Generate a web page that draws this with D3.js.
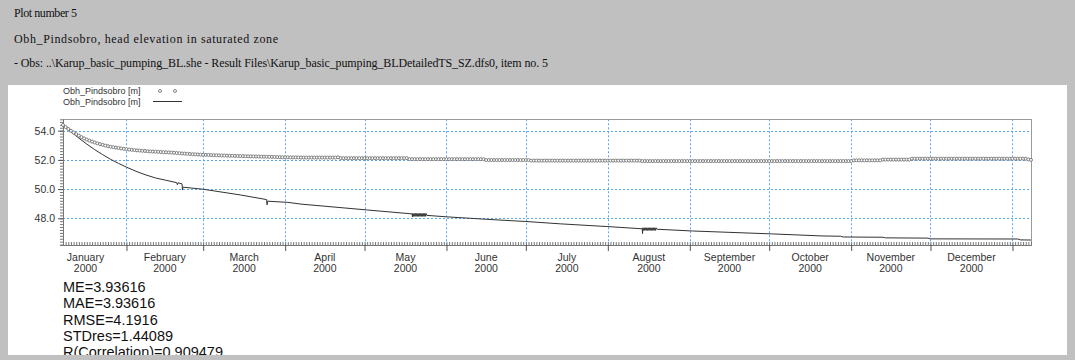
<!DOCTYPE html>
<html><head><meta charset="utf-8">
<script src="https://cdn.jsdelivr.net/npm/d3@7"></script>
<style>body{margin:0;background:#c0c0c0;overflow:hidden}</style>
</head><body>
<svg id="c" width="1075" height="360"></svg>
<script>
// ---------- data ----------
const headerLines = [
  "Plot number 5",
  "Obh_Pindsobro, head elevation in saturated zone",
  "- Obs: ..\\Karup_basic_pumping_BL.she - Result Files\\Karup_basic_pumping_BLDetailedTS_SZ.dfs0, item no. 5"
];
const legendLabels = ["Obh_Pindsobro [m]", "Obh_Pindsobro [m]"];
const xDomain = ["2000-01-08", "2001-01-08"];
const yDomain = [46.17, 54.78];
const yMajorTicks = [48.0, 50.0, 52.0, 54.0];
const monthLabels = ["January","February","March","April","May","June","July","August","September","October","November","December"];
const yearLabel = "2000";
const statsLines = ["ME=3.93616","MAE=3.93616","RMSE=4.1916","STDres=1.44089","R(Correlation)=0.909479"];

// observed: daily values starting at obsStart
const obsStart = "2000-01-08";
const obsValues = [
54.39,54.25,54.12,53.99,53.87,53.76,53.66,53.56,53.47,53.39,
53.32,53.25,53.19,53.13,53.08,53.03,52.98,52.94,52.90,52.87,
52.84,52.81,52.78,52.76,52.73,52.71,52.69,52.67,52.65,52.64,
52.62,52.61,52.59,52.58,52.57,52.56,52.55,52.54,52.53,52.52,
52.51,52.50,52.49,52.47,52.46,52.44,52.43,52.42,52.40,52.39,
52.38,52.37,52.36,52.35,52.34,52.34,52.33,52.32,52.32,52.31,
52.30,52.30,52.29,52.28,52.28,52.27,52.27,52.26,52.26,52.25,
52.25,52.24,52.24,52.23,52.23,52.22,52.22,52.21,52.21,52.20,
52.20,52.19,52.19,52.18,52.18,52.18,52.17,52.17,52.17,52.17,
52.16,52.16,52.16,52.16,52.16,52.16,52.16,52.16,52.16,52.16,
52.16,52.16,52.16,52.16,52.18,52.12,52.12,52.12,52.12,52.12,
52.12,52.12,52.12,52.12,52.12,52.12,52.12,52.12,52.12,52.12,
52.12,52.12,52.12,52.12,52.12,52.12,52.12,52.12,52.12,52.12,
52.12,52.05,52.05,52.05,52.05,52.05,52.05,52.05,52.05,52.05,
52.05,52.05,52.05,52.05,52.05,52.05,52.05,52.05,52.05,52.05,
52.05,52.05,52.05,52.05,52.05,52.05,52.05,52.05,52.05,52.05,
51.99,51.99,51.99,51.99,51.99,51.99,51.99,51.99,51.99,51.99,
51.99,51.99,51.99,51.99,51.99,51.99,51.99,51.95,51.95,51.95,
51.95,51.95,51.95,51.95,51.95,51.95,51.95,51.95,51.95,51.95,
51.95,51.95,51.95,51.95,51.95,51.95,51.95,51.95,51.95,51.95,
51.95,51.95,51.95,51.95,51.95,51.95,51.95,51.95,51.95,51.95,
51.95,51.95,51.95,51.95,51.95,51.95,51.95,51.95,51.95,51.92,
51.92,51.92,51.92,51.92,51.92,51.92,51.92,51.92,51.92,51.92,
51.92,51.92,51.92,51.92,51.92,51.92,51.92,51.92,51.92,51.92,
51.92,51.92,51.92,51.92,51.92,51.92,51.92,51.92,51.92,51.92,
51.92,51.92,51.92,51.92,51.92,51.92,51.92,51.92,51.92,51.92,
51.92,51.92,51.92,51.92,51.92,51.92,51.92,51.92,51.92,51.92,
51.92,51.92,51.92,51.92,51.92,51.92,51.92,51.92,51.92,51.92,
51.92,51.92,51.92,51.92,51.92,51.92,51.92,51.92,51.92,51.92,
51.92,51.92,51.92,51.92,51.92,51.92,51.92,51.92,51.92,51.97,
51.97,51.97,51.97,51.97,51.97,51.97,51.97,51.97,51.97,51.97,
52.02,52.02,52.02,52.02,52.02,52.02,52.02,52.02,52.02,52.02,
52.02,52.08,52.08,52.08,52.08,52.08,52.08,52.08,52.08,52.08,
52.08,52.08,52.08,52.08,52.08,52.08,52.08,52.08,52.08,52.08,
52.08,52.08,52.08,52.08,52.08,52.08,52.08,52.08,52.08,52.08,
52.08,52.08,52.08,52.08,52.08,52.08,52.08,52.08,52.08,52.08,
52.08,52.08,52.08,52.08,52.08,52.03,52.00
];

// simulated: [time, value]
const simPoints = [
["2000-01-08T00",54.39],["2000-01-11T00",53.93],["2000-01-14T00",53.49],["2000-01-17T00",53.08],
["2000-01-20T00",52.70],["2000-01-23T00",52.36],["2000-01-26T00",52.04],["2000-01-29T00",51.76],
["2000-02-01T00",51.50],["2000-02-05T00",51.19],["2000-02-08T00",50.99],["2000-02-12T00",50.76],
["2000-02-16T00",50.60],["2000-02-20T00",50.44],
["2000-02-20T06",50.30],["2000-02-20T12",50.43],["2000-02-22T00",50.36],["2000-02-22T04",49.94],
["2000-02-22T08",50.13],["2000-03-01T00",49.99],["2000-03-15T00",49.60],["2000-03-25T00",49.28],
["2000-03-25T04",48.92],["2000-03-25T08",49.17],["2000-04-02T00",49.09],["2000-04-07T00",48.97],
["2000-05-02T00",48.57],["2000-05-19T00",48.30],["2000-05-19T03",48.10],["2000-05-19T06",48.33],
["2000-05-19T12",48.13],["2000-05-19T18",48.33],["2000-05-20T00",48.13],["2000-05-20T06",48.33],
["2000-05-20T12",48.13],["2000-05-20T18",48.33],["2000-05-21T00",48.13],["2000-05-21T06",48.33],
["2000-05-21T12",48.13],["2000-05-21T18",48.33],["2000-05-22T00",48.13],["2000-05-22T06",48.33],
["2000-05-22T12",48.13],["2000-05-22T18",48.33],["2000-05-23T00",48.13],["2000-05-23T06",48.33],
["2000-05-23T12",48.13],["2000-05-23T18",48.33],["2000-05-24T00",48.13],["2000-05-24T06",48.33],
["2000-05-24T12",48.20],["2000-06-01T00",48.10],["2000-06-19T00",47.90],["2000-07-01T00",47.78],
["2000-07-14T00",47.62],["2000-08-01T00",47.43],["2000-08-14T00",47.28],["2000-08-14T03",46.95],
["2000-08-14T06",47.35],["2000-08-14T12",47.17],["2000-08-14T18",47.35],["2000-08-15T00",47.17],
["2000-08-15T06",47.35],["2000-08-15T12",47.17],["2000-08-15T18",47.35],["2000-08-16T00",47.17],
["2000-08-16T06",47.35],["2000-08-16T12",47.17],["2000-08-16T18",47.35],["2000-08-17T00",47.17],
["2000-08-17T06",47.35],["2000-08-17T12",47.17],["2000-08-17T18",47.35],["2000-08-18T00",47.17],
["2000-08-18T06",47.35],["2000-08-18T12",47.17],["2000-08-18T18",47.35],["2000-08-19T00",47.17],
["2000-08-19T06",47.35],["2000-08-19T12",47.25],["2000-09-02T00",47.13],["2000-10-02T00",46.93],
["2000-10-21T00",46.79],["2000-10-28T00",46.77],["2000-10-29T00",46.72],["2000-11-13T00",46.70],
["2000-11-14T00",46.66],["2000-11-30T00",46.64],["2000-12-01T00",46.59],["2001-01-03T00",46.58],
["2001-01-04T00",46.52],["2001-01-08T00",46.51]
];

// ---------- drawing ----------
const svg = d3.select("#c");
const parseDay = d3.timeParse("%Y-%m-%d");
const parseHour = d3.timeParse("%Y-%m-%dT%H");

svg.append("rect").attr("width",1075).attr("height",360).attr("fill","#c0c0c0");

// header
const hdrY = [17,43,67], hdrW = [63,264,534];
svg.selectAll("text.hdr").data(headerLines).join("text")
  .attr("class","hdr")
  .attr("x",14).attr("y",(d,i)=>hdrY[i])
  .attr("textLength",(d,i)=>hdrW[i]).attr("lengthAdjust","spacing")
  .attr("font-family","'Liberation Serif','Times New Roman',serif")
  .attr("font-size",12).attr("fill","#111").text(d=>d);

// white panel with clip
const defs = svg.append("defs");
defs.append("clipPath").attr("id","panelClip").append("rect")
  .attr("x",8).attr("y",85).attr("width",1059).attr("height",270);
svg.append("rect").attr("x",8).attr("y",85).attr("width",1059).attr("height",270).attr("fill","#fff");
const panel = svg.append("g").attr("clip-path","url(#panelClip)");

const pL=63, pR=1031, pT=119.3, pB=245;
const x = d3.scaleTime().domain(xDomain.map(parseDay)).range([pL,pR]);
const y = d3.scaleLinear().domain(yDomain).range([pB,pT]);

const sans = "'Liberation Sans',Arial,sans-serif";

// grid
const monthStarts = d3.timeMonth.range(d3.timeMonth.ceil(x.domain()[0]), x.domain()[1]).filter(d=>x(d)>pL+1);
panel.append("g").selectAll("line").data(monthStarts).join("line")
  .attr("x1",d=>Math.round(x(d))+0.5).attr("x2",d=>Math.round(x(d))+0.5).attr("y1",pT).attr("y2",pB)
  .attr("stroke","#5aa5f5").attr("stroke-width",1).attr("stroke-dasharray","2,2");
panel.append("g").selectAll("line").data(yMajorTicks).join("line")
  .attr("x1",pL).attr("x2",pR).attr("y1",d=>Math.round(y(d))+0.5).attr("y2",d=>Math.round(y(d))+0.5)
  .attr("stroke","#5aa5f5").attr("stroke-width",1).attr("stroke-dasharray","2,2");

// frame (top, right)
panel.append("rect").attr("x",pL+0.5).attr("y",Math.round(pT)+0.5)
  .attr("width",pR-pL).attr("height",pB-Math.round(pT))
  .attr("fill","none").attr("stroke","#9a9a9a").attr("stroke-width",1);

// x axis: daily minor ticks upward, monthly major ticks downward
const xMinor = d3.axisBottom(x).ticks(d3.timeDay.every(1)).tickSize(-3).tickFormat("");
const gxm = panel.append("g").attr("transform",`translate(0,${pB})`).call(xMinor);
gxm.select(".domain").attr("stroke","#777");
gxm.selectAll(".tick line").attr("stroke","#777");
const xMajor = d3.axisBottom(x).tickValues(monthStarts).tickSize(6).tickFormat("");
const gxM = panel.append("g").attr("transform",`translate(0,${pB})`).call(xMajor);
gxM.select(".domain").remove();
gxM.selectAll(".tick line").attr("stroke","#555");

// month labels at mid-month
const labelData = monthLabels.map((m,i)=>{
  const s = new Date(2000,i,1), e = new Date(2000,i+1,1);
  return {name:m, mid:new Date((+s + +e)/2)};
});
const lg = panel.append("g");
lg.selectAll("text.m").data(labelData).join("text").attr("class","m")
  .attr("x",d=>x(d.mid)).attr("y",261).attr("text-anchor","middle")
  .attr("font-family",sans).attr("font-size",10.5).attr("fill","#333").text(d=>d.name);
lg.selectAll("text.yr").data(labelData).join("text").attr("class","yr")
  .attr("x",d=>x(d.mid)).attr("y",272).attr("text-anchor","middle")
  .attr("font-family",sans).attr("font-size",10.5).attr("fill","#333").text(yearLabel);

// y axis
const yMinorVals = d3.range(Math.ceil(yDomain[0]/0.2), Math.floor(yDomain[1]/0.2)+1).map(k=>+(k*0.2).toFixed(1));
const gym = panel.append("g").attr("transform",`translate(${pL},0)`)
  .call(d3.axisLeft(y).tickValues(yMinorVals).tickSize(3).tickFormat(""));
gym.select(".domain").attr("stroke","#777");
gym.selectAll(".tick line").attr("stroke","#777");
const gyM = panel.append("g").attr("transform",`translate(${pL},0)`)
  .call(d3.axisLeft(y).tickValues(yMajorTicks).tickSize(5).tickPadding(3).tickFormat(d3.format(".1f")));
gyM.select(".domain").remove();
gyM.selectAll(".tick line").attr("stroke","#555");
gyM.selectAll(".tick text").attr("font-family",sans).attr("font-size",10.5).attr("fill","#333");

// simulated line
const line = d3.line().x(d=>x(parseHour(d[0]))).y(d=>y(d[1]));
panel.append("path").datum(simPoints).attr("d",line)
  .attr("fill","none").attr("stroke","#333").attr("stroke-width",1);

// observed circles
const t0 = parseDay(obsStart);
const obs = obsValues.map((v,i)=>({t:d3.timeDay.offset(t0,i), v}));
panel.append("g").selectAll("circle").data(obs).join("circle")
  .attr("cx",d=>x(d.t)).attr("cy",d=>y(d.v)).attr("r",1.5)
  .attr("fill","#fff").attr("stroke","#666").attr("stroke-width",0.8);

// legend
const leg = panel.append("g");
leg.selectAll("text").data(legendLabels).join("text")
  .attr("x",63).attr("y",(d,i)=>94+i*10.5)
  .attr("font-family",sans).attr("font-size",9).attr("fill","#333").text(d=>d);
leg.selectAll("circle").data([160,175]).join("circle")
  .attr("cx",d=>d).attr("cy",91).attr("r",1.5).attr("fill","#fff").attr("stroke","#666").attr("stroke-width",0.8);
leg.append("line").attr("x1",153).attr("x2",182).attr("y1",101.5).attr("y2",101.5)
  .attr("stroke","#333").attr("stroke-width",1);

// stats
panel.selectAll("text.st").data(statsLines).join("text").attr("class","st")
  .attr("x",63).attr("y",(d,i)=>292+i*16.3)
  .attr("font-family",sans).attr("font-size",14.5).attr("fill","#111").text(d=>d);
</script>
</body></html>
